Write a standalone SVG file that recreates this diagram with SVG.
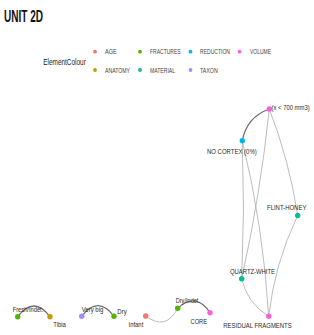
<svg xmlns="http://www.w3.org/2000/svg" width="314" height="335" viewBox="0 0 314 335">
<style>
.title{font-family:"Liberation Sans",Arial,sans-serif;font-weight:bold;font-size:17px;fill:#111}
.lgt{font-family:"Liberation Sans",Arial,sans-serif;font-size:9px;fill:#222}
.lg{font-family:"Liberation Sans",Arial,sans-serif;font-size:7.5px;fill:#444}
.lb{font-family:"Liberation Sans",Arial,sans-serif;font-size:8px;fill:#2a2a2a}
.e{fill:none;stroke:#b4b4b4;stroke-width:0.9}
.ed{fill:none;stroke:#6e6e6e;stroke-width:1.3}
.age{fill:#F8766D}.ana{fill:#C49A00}.fra{fill:#53B400}.mat{fill:#00C094}.red{fill:#00B6EB}.tax{fill:#A58AFF}.vol{fill:#FB61D7}
</style>
<rect width="314" height="335" fill="#ffffff"/>
<text class="title" x="4" y="21.5" textLength="39" lengthAdjust="spacingAndGlyphs">UNIT 2D</text>
<g id="legend">
<text class="lgt" x="43.3" y="65.2" textLength="42.5" lengthAdjust="spacingAndGlyphs">ElementColour</text>
<circle class="age" cx="95" cy="51.7" r="1.9"/>
<text class="lg" x="105" y="54.4" textLength="11.7" lengthAdjust="spacingAndGlyphs">AGE</text>
<circle class="ana" cx="95" cy="70" r="1.9"/>
<text class="lg" x="105" y="72.7" textLength="25" lengthAdjust="spacingAndGlyphs">ANATOMY</text>
<circle class="fra" cx="140" cy="51.7" r="1.9"/>
<text class="lg" x="150" y="54.4" textLength="30.7" lengthAdjust="spacingAndGlyphs">FRACTURES</text>
<circle class="mat" cx="140" cy="70" r="1.9"/>
<text class="lg" x="150" y="72.7" textLength="25" lengthAdjust="spacingAndGlyphs">MATERIAL</text>
<circle class="red" cx="190.5" cy="51.7" r="1.9"/>
<text class="lg" x="200" y="54.4" textLength="30" lengthAdjust="spacingAndGlyphs">REDUCTION</text>
<circle class="tax" cx="190.5" cy="70" r="1.9"/>
<text class="lg" x="200" y="72.7" textLength="17.7" lengthAdjust="spacingAndGlyphs">TAXON</text>
<circle class="vol" cx="239.5" cy="51.7" r="1.9"/>
<text class="lg" x="250" y="54.4" textLength="21" lengthAdjust="spacingAndGlyphs">VOLUME</text>
</g>
<g id="edges">
<path class="ed" d="M242.3,140.7 Q246.7,117.1 269.3,109"/>
<path class="e" d="M269.3,109 Q289.3,160.7 297.7,215.5"/>
<path class="e" d="M297.7,215.5 Q274.6,263.4 268.7,316.3"/>
<path class="e" d="M241.7,278.7 Q247.1,303.3 268.7,316.3"/>
<path class="e" d="M242.3,140.7 Q263.4,227.3 268.7,316.3"/>
<path class="e" d="M269.3,109 Q260.4,194.6 241.7,278.7"/>
<path class="e" d="M242.3,140.7 Q245,209.7 241.7,278.7"/>
<path class="ed" d="M17.7,316.7 Q33.9,295.3 50,316.7"/>
<path class="ed" d="M81.7,316.3 Q97.9,295 114,316.3"/>
<path class="e" d="M145.7,316 Q166,331 177.7,308.3"/>
<path class="ed" d="M177.7,308.3 Q196.4,291.7 210,312.7"/>
</g>
<g id="node-volume"><circle class="vol" cx="269.3" cy="109" r="2.7"/><text class="lb" transform="translate(271.5,109.8) scale(0.739,1)">(x &lt; 700 mm3)</text></g>
<g id="node-nocortex"><circle class="red" cx="242.3" cy="140.7" r="2.7"/><text class="lb" x="207" y="154" textLength="49.7" lengthAdjust="spacingAndGlyphs">NO CORTEX (0%)</text></g>
<g id="node-flint"><circle class="mat" cx="297.7" cy="215.5" r="2.7"/><text class="lb" transform="translate(267,210.2) scale(0.745,1)">FLINT-HONEY</text></g>
<g id="node-quartz"><circle class="mat" cx="241.7" cy="278.7" r="2.7"/><text class="lb" x="230" y="274.2" textLength="45" lengthAdjust="spacingAndGlyphs">QUARTZ-WHITE</text></g>
<g id="node-residual"><circle class="vol" cx="268.7" cy="316.3" r="2.7"/><text class="lb" x="223.3" y="327.9" textLength="68.4" lengthAdjust="spacingAndGlyphs">RESIDUAL FRAGMENTS</text></g>
<g id="node-core"><circle class="vol" cx="210" cy="312.7" r="2.7"/><text class="lb" x="190.5" y="324.4" textLength="16.6" lengthAdjust="spacingAndGlyphs">CORE</text></g>
<g id="node-dryindet"><circle class="fra" cx="177.7" cy="308.3" r="2.7"/><text class="lb" x="175.7" y="302.9" textLength="24.3" lengthAdjust="spacingAndGlyphs">Dry/Indet.</text></g>
<g id="node-infant"><circle class="age" cx="145.7" cy="316" r="2.7"/><text class="lb" x="128.5" y="326.9" textLength="14.8" lengthAdjust="spacingAndGlyphs">Infant</text></g>
<g id="node-dry"><circle class="fra" cx="114" cy="316.3" r="2.7"/><text class="lb" x="117.3" y="313.6" textLength="9.4" lengthAdjust="spacingAndGlyphs">Dry</text></g>
<g id="node-verybig"><circle class="tax" cx="81.7" cy="316.3" r="2.7"/><text class="lb" x="81.7" y="312.2" textLength="21.6" lengthAdjust="spacingAndGlyphs">Very big</text></g>
<g id="node-tibia"><circle class="ana" cx="50" cy="316.7" r="2.7"/><text class="lb" x="53.3" y="326.9" textLength="12.5" lengthAdjust="spacingAndGlyphs">Tibia</text></g>
<g id="node-freshindet"><circle class="fra" cx="17.7" cy="316.7" r="2.7"/><text class="lb" x="12.7" y="312.4" textLength="30.6" lengthAdjust="spacingAndGlyphs">Fresh/Indet.</text></g>
</svg>
